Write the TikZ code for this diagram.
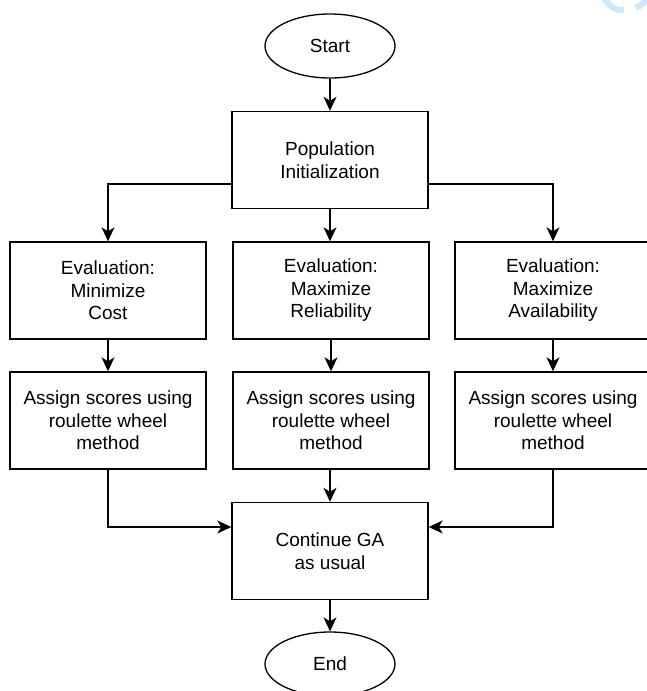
\documentclass[tikz,border=0pt]{standalone}
\usepackage{fontspec}
\setmainfont{Liberation Sans}
\usetikzlibrary{shapes.geometric,arrows.meta}
\definecolor{wmblue}{RGB}{205,232,250}
\begin{document}
\begin{tikzpicture}[x=1pt,y=-1pt,
  every node/.style={font=\fontsize{19}{22.5}\selectfont, align=center},
  term/.style={draw, ellipse, line width=1.3pt, minimum width=130pt, minimum height=64pt, inner sep=0pt},
  box/.style={draw, rectangle, line width=1.4pt, minimum width=196pt, minimum height=97pt, inner sep=0pt},
  arr/.style={line width=1.4pt, -{Stealth[length=14pt,width=13pt,inset=4pt]}}
]
\useasboundingbox[fill=white] (0,0) rectangle (646,691);
% faint watermark at top right
\draw[line width=6pt, color=wmblue] (604,-2) .. controls (610,8) and (618,11) .. (624,10);
\draw[line width=6pt, color=wmblue] (636,8) .. controls (642,5) and (646,1) .. (648,-3);

\node[term] (start) at (330,46) {Start};
\node[box] (pop) at (330,160) {Population\\Initialization};

\node[box] (e1) at (108,290.5) {Evaluation:\\Minimize\\Cost};
\node[box] (e2) at (331,290.5) {Evaluation:\\Maximize\\Reliability};
\node[box] (e3) at (553,290.5) {Evaluation:\\Maximize\\Availability};

\node[box] (a1) at (108,420.5) {Assign scores using\\roulette wheel\\method};
\node[box] (a2) at (331,420.5) {Assign scores using\\roulette wheel\\method};
\node[box] (a3) at (553,420.5) {Assign scores using\\roulette wheel\\method};

\node[box] (cont) at (330,551) {Continue GA\\as usual};
\node[term] (end) at (330,664) {End};

\draw[arr] (start.south) -- (pop.north);
\draw[arr] ([yshift=-24pt]pop.west) -| (e1.north);
\draw[arr] (pop.south) -- (pop.south |- e2.north);
\draw[arr] ([yshift=-24pt]pop.east) -| (e3.north);

\draw[arr] (e1.south) -- (a1.north);
\draw[arr] (e2.south) -- (a2.north);
\draw[arr] (e3.south) -- (a3.north);

\draw[arr] (a1.south) |- ([yshift=24pt]cont.west);
\draw[arr] (a2.south -| cont.north) -- (cont.north);
\draw[arr] (a3.south) |- ([yshift=24pt]cont.east);

\draw[arr] (cont.south) -- (end.north);
\end{tikzpicture}
\end{document}
